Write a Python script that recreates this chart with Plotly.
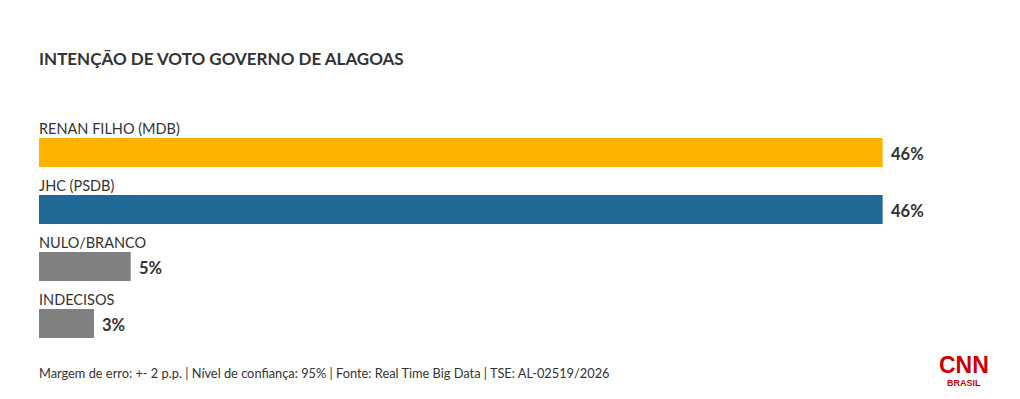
import plotly.graph_objects as go

categories = ["RENAN FILHO (MDB)", "JHC (PSDB)", "NULO/BRANCO", "INDECISOS"]
values = [46, 46, 5, 3]
value_labels = ["46%", "46%", "5%", "3%"]
colors = ["#FFB300", "#1F6A96", "#808080", "#808080"]

title = "INTENÇÃO DE VOTO GOVERNO DE ALAGOAS"
footer = "Margem de erro: +- 2 p.p. | Nível de confiança: 95% | Fonte: Real Time Big Data | TSE: AL-02519/2026"

FONT = "Lato"
TXT = "#333333"

W, H = 1020, 399
ML, MR, MT, MB = 39, 64, 124, 47
plot_w = W - ML - MR
plot_h = H - MT - MB

def px_x(px):
    return (px - ML) / plot_w

def px_y(py):
    return (H - MB - py) / plot_h

pos = list(range(len(categories)))

fig = go.Figure()
fig.add_trace(go.Bar(
    y=pos, x=values, orientation="h",
    marker=dict(color=colors, line=dict(width=0)),
    width=0.51, hoverinfo="skip",
))

for p, c, v, lab in zip(pos, categories, values, value_labels):
    fig.add_annotation(x=0, y=p, xref="x", yref="y", text=c, showarrow=False,
                       xanchor="left", yanchor="middle", yshift=24.5, xshift=-2,
                       font=dict(family=FONT, size=14.5, color=TXT))
    fig.add_annotation(x=v, y=p, xref="x", yref="y", text="<b>" + lab + "</b>", showarrow=False,
                       xanchor="left", yanchor="middle", xshift=6, yshift=-1,
                       font=dict(family=FONT, size=16.5, color=TXT))

fig.add_annotation(x=px_x(37), y=px_y(59), xref="paper", yref="paper",
                   text="<b>" + title + "</b>", showarrow=False, xanchor="left", yanchor="middle",
                   font=dict(family=FONT, size=17, color=TXT))
fig.add_annotation(x=px_x(37), y=px_y(373), xref="paper", yref="paper",
                   text=footer, showarrow=False, xanchor="left", yanchor="middle",
                   font=dict(family=FONT, size=12.8, color=TXT))
fig.add_annotation(x=px_x(964), y=px_y(365), xref="paper", yref="paper",
                   text="<b>CNN</b>", showarrow=False, xanchor="center", yanchor="middle",
                   font=dict(family="Liberation Sans", size=23, color="#CC0000"))
fig.add_annotation(x=px_x(964), y=px_y(383), xref="paper", yref="paper",
                   text="<b>BRASIL</b>", showarrow=False, xanchor="center", yanchor="middle",
                   font=dict(family="Liberation Sans", size=9, color="#CC0000"))

fig.update_layout(
    width=W, height=H,
    margin=dict(l=ML, r=MR, t=MT, b=MB, autoexpand=False),
    paper_bgcolor="white", plot_bgcolor="white",
    showlegend=False,
    xaxis=dict(range=[0, 50], visible=False, fixedrange=True),
    yaxis=dict(range=[3.5, -0.5], visible=False, fixedrange=True),
)

fig.write_html("out.html", config={"displayModeBar": False})
